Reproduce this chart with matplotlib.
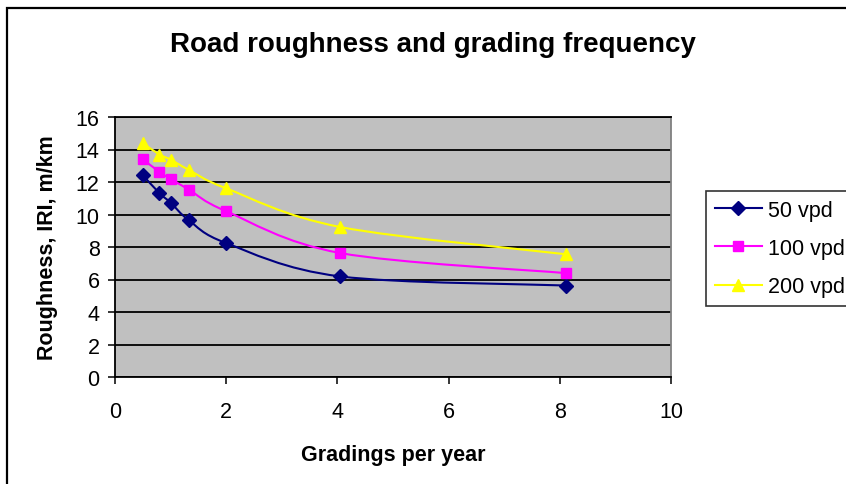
#!/usr/bin/env python3
# -*- coding: utf-8 -*-
"""Road roughness (IRI) against grading frequency for three traffic levels."""

import matplotlib
matplotlib.use("Agg")
import matplotlib.pyplot as plt
from matplotlib.path import Path
from matplotlib.patches import PathPatch, Rectangle
from matplotlib.lines import Line2D

plt.rcParams["font.family"] = ["Liberation Sans", "DejaVu Sans"]

# --- data ---
gradings = [0.5, 0.8, 1.0, 1.33, 2.0, 4.05, 8.12]
iri_50 = [12.42, 11.31, 10.73, 9.64, 8.24, 6.19, 5.63]
iri_100 = [13.40, 12.62, 12.19, 11.53, 10.20, 7.63, 6.39]
iri_200 = [14.39, 13.69, 13.38, 12.74, 11.61, 9.23, 7.55]

series = [
    ("50 vpd", iri_50, "#000080", "D", 7.0),
    ("100 vpd", iri_100, "#FF00FF", "s", 7.2),
    ("200 vpd", iri_200, "#FFFF00", "^", 9.0),
]

W, H = 846, 485
FS = 15.5


def smooth_path(xs, ys):
    """Bezier path through the points, spreadsheet-style smoothed line."""
    pts = list(zip(xs, ys))
    n = len(pts)
    verts = [pts[0]]
    codes = [Path.MOVETO]
    for i in range(n - 1):
        p0 = pts[i - 1] if i > 0 else pts[i]
        p1 = pts[i]
        p2 = pts[i + 1]
        p3 = pts[i + 2] if i + 2 < n else pts[i + 1]
        c1 = (p1[0] + (p2[0] - p0[0]) / 6.0, p1[1] + (p2[1] - p0[1]) / 6.0)
        c2 = (p2[0] - (p3[0] - p1[0]) / 6.0, p2[1] - (p3[1] - p1[1]) / 6.0)
        verts += [c1, c2, p2]
        codes += [Path.CURVE4] * 3
    return Path(verts, codes)


fig = plt.figure(figsize=(W / 100, H / 100), dpi=100)
fig.patch.set_facecolor("white")

# chart border (runs off the right and bottom edges)
fig.patches.append(Rectangle((7 / W, -0.2), 1.2, 1.2 - 9 / H,
                             transform=fig.transFigure, fill=False,
                             edgecolor="black", linewidth=1.6, zorder=0))

ax = fig.add_axes([115 / W, 1 - 378 / H, (671 - 115) / W, (378 - 118) / H])
ax.set_facecolor("#C0C0C0")
ax.set_xlim(0, 10)
ax.set_ylim(0, 16)
ax.set_xticks(range(0, 11, 2))
ax.set_yticks(range(0, 17, 2))
ax.yaxis.grid(True, color="black", linewidth=1.3)
ax.set_axisbelow(True)

for name, vals, color, marker, ms in series:
    ax.add_patch(PathPatch(smooth_path(gradings, vals), fill=False,
                           edgecolor=color, linewidth=1.5, zorder=3))
    ax.plot(gradings, vals, linestyle="none", marker=marker, markersize=ms,
            color=color, markeredgecolor=color, zorder=4)

for side in ("left", "bottom", "top"):
    ax.spines[side].set_color("black")
    ax.spines[side].set_linewidth(1.3)
ax.spines["right"].set_color("#808080")
ax.spines["right"].set_linewidth(1.3)

ax.tick_params(direction="out", length=5, width=1.1, labelsize=FS,
               color="black")
ax.tick_params(axis="y", pad=6)
ax.tick_params(axis="x", pad=12)

ax.set_xlabel("Gradings per year", fontsize=FS, fontweight="bold", labelpad=16)
ax.set_ylabel("Roughness, IRI, m/km", fontsize=FS, fontweight="bold", labelpad=13)
fig.text(433 / W, 1 - 45 / H, "Road roughness and grading frequency",
         fontsize=20, fontweight="bold", ha="center", va="center")

handles = [Line2D([], [], color=c, marker=m, markersize=ms, linewidth=1.5,
                  markeredgecolor=c)
           for _, _, c, m, ms in series]
leg = fig.legend(handles, [s[0] for s in series], loc="upper left",
                 bbox_to_anchor=(706 / W, 1 - 192 / H), fontsize=FS,
                 frameon=True, fancybox=False, handlelength=2.2,
                 handletextpad=0.3, labelspacing=0.8, borderpad=0.4,
                 borderaxespad=0)
leg.get_frame().set_edgecolor("black")
leg.get_frame().set_linewidth(1.2)

fig.savefig("out.png", dpi=100)
